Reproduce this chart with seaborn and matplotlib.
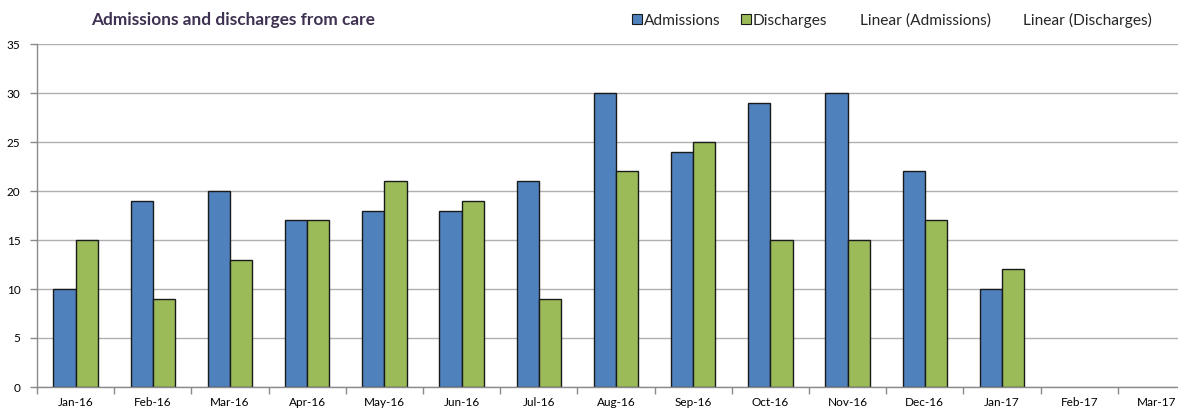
import numpy as np
import pandas as pd
import matplotlib
matplotlib.use("Agg")
import matplotlib.pyplot as plt
from matplotlib.patches import Patch
from matplotlib.lines import Line2D
import seaborn as sns

months = ["Jan-16", "Feb-16", "Mar-16", "Apr-16", "May-16", "Jun-16", "Jul-16",
          "Aug-16", "Sep-16", "Oct-16", "Nov-16", "Dec-16", "Jan-17", "Feb-17", "Mar-17"]
admissions = [10, 19, 20, 17, 18, 18, 21, 30, 24, 29, 30, 22, 10, np.nan, np.nan]
discharges = [15, 9, 13, 17, 21, 19, 9, 22, 25, 15, 15, 17, 12, np.nan, np.nan]
series = ["Admissions", "Discharges"]
colors = ["#4F81BD", "#9BBB59"]

df = pd.DataFrame({
    "Month": months * 2,
    "Value": admissions + discharges,
    "Series": [series[0]] * len(months) + [series[1]] * len(months),
})

sns.set_theme(style="white")
plt.rcParams["font.family"] = ["Lato", "DejaVu Sans"]

fig = plt.figure(figsize=(11.78, 4.12), dpi=100)
ax = fig.add_axes([37 / 1178, 1 - 387 / 412, (1195 - 37) / 1178, (387 - 44) / 412])

sns.barplot(data=df.dropna(), x="Month", y="Value", hue="Series", order=months,
            hue_order=series, palette=colors, saturation=1, width=0.575, dodge=True,
            edgecolor="#1a1a1a", linewidth=1.0, errorbar=None, legend=False, ax=ax)

ax.set_xlim(-0.5, len(months) - 0.5)
ax.set_ylim(0, 35)
ax.set_yticks(range(0, 36, 5))
ax.yaxis.grid(True, color="#b0b0b0", linewidth=1.0)
ax.set_axisbelow(True)
ax.set_xlabel("")
ax.set_ylabel("")

for side in ["top", "right"]:
    ax.spines[side].set_visible(False)
ax.spines["left"].set_color("#8a8a8a")
ax.spines["bottom"].set_color("#8a8a8a")
ax.spines["left"].set_linewidth(1.0)
ax.spines["bottom"].set_linewidth(1.0)

# category boundary ticks on the x axis
ax.set_xticks(np.arange(-0.5, len(months), 1.0), minor=True)
ax.tick_params(axis="x", which="minor", length=5, color="#8a8a8a", width=1.0, bottom=True)
ax.tick_params(axis="x", which="major", length=0, labelsize=8.5, colors="#000000", pad=7)
ax.tick_params(axis="y", which="major", length=5, color="#8a8a8a", width=1.0, left=True,
               labelsize=8.5, colors="#000000", pad=7)

fig.text(0.198, 0.951, "Admissions and discharges from care", ha="center", va="center",
         fontsize=12.4, fontweight="bold", color="#3F3151")

handles = [
    Patch(facecolor=colors[0], edgecolor="#1a1a1a", linewidth=0.8),
    Patch(facecolor=colors[1], edgecolor="#1a1a1a", linewidth=0.8),
    Line2D([], [], color="none"),
    Line2D([], [], color="none"),
]
labels = ["Admissions", "Discharges", "Linear (Admissions)", "Linear (Discharges)"]
fig.legend(handles, labels, loc="center left", bbox_to_anchor=(632 / 1178, 0.951), ncol=4,
           frameon=False, fontsize=11.2, handlelength=0.64, handleheight=0.64,
           handletextpad=0.13, columnspacing=1.3, borderaxespad=0, borderpad=0)

fig.savefig("out.png", dpi=100)
